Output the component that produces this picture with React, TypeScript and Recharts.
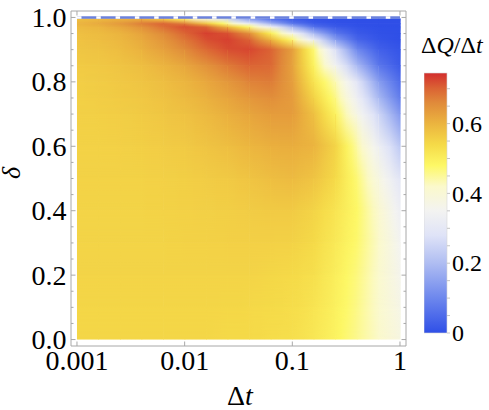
import React from 'react';
import { ComposedChart, XAxis, YAxis, ReferenceArea, ReferenceLine } from 'recharts';

// ---- grid of Δt (log-spaced columns) and δ (rows) ----
const DT = [0.001, 0.00158, 0.00251, 0.00398, 0.00631, 0.01, 0.0158, 0.0251, 0.0398, 0.0631, 0.1, 0.158, 0.251, 0.398, 0.631, 1];
const DELTA = [0, 0.1, 0.2, 0.3, 0.4, 0.5, 0.6, 0.7, 0.75, 0.8, 0.85, 0.9, 0.93, 0.95, 0.97, 0.98, 0.995];

// ΔQ/Δt values, one row per δ (columns follow DT)
const Q_000 = [0.545, 0.545, 0.545, 0.545, 0.545, 0.545, 0.545, 0.54, 0.54, 0.535, 0.53, 0.515, 0.49, 0.455, 0.42, 0.38];
const Q_010 = [0.547, 0.547, 0.547, 0.547, 0.547, 0.547, 0.547, 0.545, 0.543, 0.54, 0.535, 0.52, 0.495, 0.46, 0.415, 0.37];
const Q_020 = [0.55, 0.55, 0.55, 0.55, 0.55, 0.55, 0.55, 0.55, 0.55, 0.545, 0.54, 0.53, 0.5, 0.465, 0.415, 0.36];
const Q_030 = [0.55, 0.55, 0.55, 0.55, 0.55, 0.552, 0.553, 0.555, 0.555, 0.555, 0.553, 0.54, 0.51, 0.475, 0.42, 0.35];
const Q_040 = [0.55, 0.55, 0.55, 0.55, 0.552, 0.554, 0.556, 0.558, 0.562, 0.566, 0.565, 0.55, 0.52, 0.48, 0.41, 0.33];
const Q_050 = [0.552, 0.552, 0.552, 0.553, 0.555, 0.558, 0.562, 0.567, 0.575, 0.585, 0.59, 0.575, 0.54, 0.47, 0.38, 0.29];
const Q_060 = [0.553, 0.553, 0.555, 0.558, 0.562, 0.567, 0.575, 0.585, 0.597, 0.607, 0.61, 0.6, 0.55, 0.44, 0.33, 0.22];
const Q_070 = [0.555, 0.557, 0.56, 0.565, 0.572, 0.58, 0.592, 0.607, 0.622, 0.635, 0.635, 0.58, 0.49, 0.37, 0.25, 0.13];
const Q_075 = [0.557, 0.56, 0.565, 0.57, 0.578, 0.59, 0.605, 0.623, 0.642, 0.655, 0.635, 0.55, 0.46, 0.33, 0.19, 0.08];
const Q_080 = [0.56, 0.563, 0.568, 0.575, 0.585, 0.598, 0.618, 0.642, 0.668, 0.675, 0.63, 0.52, 0.43, 0.29, 0.14, 0.05];
const Q_085 = [0.565, 0.568, 0.575, 0.585, 0.6, 0.62, 0.648, 0.678, 0.7, 0.695, 0.625, 0.49, 0.34, 0.19, 0.07, 0.02];
const Q_090 = [0.572, 0.577, 0.587, 0.605, 0.628, 0.66, 0.695, 0.72, 0.725, 0.7, 0.63, 0.47, 0.27, 0.1, 0.03, 0.01];
const Q_093 = [0.577, 0.584, 0.595, 0.615, 0.645, 0.682, 0.718, 0.73, 0.7, 0.6, 0.47, 0.31, 0.14, 0.04, 0.01, 0];
const Q_095 = [0.58, 0.588, 0.6, 0.624, 0.658, 0.7, 0.73, 0.715, 0.65, 0.5, 0.35, 0.19, 0.07, 0.02, 0.005, 0];
const Q_097 = [0.59, 0.6, 0.62, 0.65, 0.69, 0.72, 0.7, 0.59, 0.47, 0.33, 0.18, 0.06, 0.02, 0.005, 0, 0];
const Q_098 = [0.6, 0.615, 0.64, 0.675, 0.7, 0.67, 0.57, 0.45, 0.31, 0.18, 0.07, 0.02, 0.005, 0, 0, 0];
const Q_0995 = [0.58, 0.59, 0.6, 0.6, 0.55, 0.47, 0.37, 0.25, 0.13, 0.05, 0.02, 0.005, 0, 0, 0, 0];
const Q_ROWS = [Q_000, Q_010, Q_020, Q_030, Q_040, Q_050, Q_060, Q_070, Q_075, Q_080, Q_085, Q_090, Q_093, Q_095, Q_097, Q_098, Q_0995];

// ---- ticks ----
const X_TICKS = [0.001, 0.01, 0.1, 1];
const X_TICK_LABELS = ['0.001', '0.01', '0.1', '1'];
const X_DOMAIN = [0.00088, 1.137];
const Y_MAJOR = [0, 0.2, 0.4, 0.6, 0.8, 1.0];
const Y_ALL = [0, 0.05, 0.1, 0.15, 0.2, 0.25, 0.3, 0.35, 0.4, 0.45, 0.5, 0.55, 0.6, 0.65, 0.7, 0.75, 0.8, 0.85, 0.9, 0.95, 1.0];
const CB_MAJOR = [0, 0.2, 0.4, 0.6];
const CB_ALL = [0, 0.05, 0.1, 0.15, 0.2, 0.25, 0.3, 0.35, 0.4, 0.45, 0.5, 0.55, 0.6, 0.65, 0.7];
const CB_MAX = 0.745;
const BOUNDARY_DELTA = 1.0;

// ---- colour map (value -> colour) ----
const CMAP_V = [0, 0.1, 0.2, 0.28, 0.35, 0.42, 0.48, 0.54, 0.6, 0.66, 0.7, 0.745];
const CMAP_C = ['#2f4fe7', '#6d87ed', '#afbdf2', '#dfe3f7', '#f3f3f1', '#fbf9cb', '#fdf866', '#f5da48', '#ebb43f', '#e08a3a', '#db6434', '#d32d2d'];

const FONT = 'Liberation Serif, Times New Roman, Times, serif';
const FRAME = '#a8a8a8';

// the x axis is drawn on log10(Δt)
const lg = (v: number) => Math.log10(v);

function hexToRgb(h: string) {
  const n = parseInt(h.slice(1), 16);
  return [(n >> 16) & 255, (n >> 8) & 255, n & 255];
}
const CMAP_RGB = CMAP_C.map(hexToRgb);

function cmap(v: number) {
  if (v <= CMAP_V[0]) v = CMAP_V[0];
  if (v >= CMAP_V[CMAP_V.length - 1]) v = CMAP_V[CMAP_V.length - 1];
  let k = 0;
  while (k < CMAP_V.length - 2 && v > CMAP_V[k + 1]) k++;
  const t = (v - CMAP_V[k]) / (CMAP_V[k + 1] - CMAP_V[k]);
  const a = CMAP_RGB[k];
  const b = CMAP_RGB[k + 1];
  const c = a.map((ai, i) => Math.round(ai + (b[i] - ai) * t));
  return `rgb(${c[0]},${c[1]},${c[2]})`;
}

const STOPS = [0, 0.25, 0.5, 0.75, 1];

function HeatCell(props: any) {
  const { x, y, width, height, cid, vbl, vbr, vtl, vtr } = props;
  if (![x, y, width, height].every((n) => typeof n === 'number' && isFinite(n))) return null;
  const X = x;
  const Y = y - 0.6;
  const W = width + 0.6;
  const H = height + 0.6;
  return (
    <g>
      <defs>
        <linearGradient id={`hb${cid}`} x1="0" y1="0" x2="1" y2="0">
          {STOPS.map((t) => (
            <stop key={t} offset={t} stopColor={cmap(vbl + (vbr - vbl) * t)} />
          ))}
        </linearGradient>
        <linearGradient id={`ht${cid}`} x1="0" y1="0" x2="1" y2="0">
          {STOPS.map((t) => (
            <stop key={t} offset={t} stopColor={cmap(vtl + (vtr - vtl) * t)} />
          ))}
        </linearGradient>
        <linearGradient id={`hm${cid}`} x1="0" y1="0" x2="0" y2="1">
          <stop offset="0" stopColor="#fff" />
          <stop offset="1" stopColor="#000" />
        </linearGradient>
        <mask id={`hk${cid}`} maskUnits="userSpaceOnUse" x={X} y={Y} width={W} height={H}>
          <rect x={X} y={Y} width={W} height={H} fill={`url(#hm${cid})`} />
        </mask>
      </defs>
      <rect x={X} y={Y} width={W} height={H} fill={`url(#hb${cid})`} />
      <rect x={X} y={Y} width={W} height={H} fill={`url(#ht${cid})`} mask={`url(#hk${cid})`} />
    </g>
  );
}

const isMajor = (v: number, arr: number[]) => arr.some((m) => Math.abs(m - v) < 1e-6);

const XTickBottom = (props: any) => {
  const { x, y, payload } = props;
  const idx = X_TICKS.findIndex((t) => Math.abs(lg(t) - payload.value) < 1e-6);
  return (
    <g>
      <line x1={x} x2={x} y1={y} y2={y - 4.5} stroke={FRAME} />
      <text x={x} y={y + 24} textAnchor="middle" fontSize={28} fontFamily={FONT} fill="#000">
        {idx >= 0 ? X_TICK_LABELS[idx] : ''}
      </text>
    </g>
  );
};

const XTickTop = (props: any) => {
  const { x, y } = props;
  return <line x1={x} x2={x} y1={y} y2={y + 4.5} stroke={FRAME} />;
};

const YTickLeft = (props: any) => {
  const { x, y, payload } = props;
  const major = isMajor(payload.value, Y_MAJOR);
  return (
    <g>
      <line x1={x} x2={x + (major ? 4.5 : 2.5)} y1={y} y2={y} stroke={FRAME} />
      {major && (
        <text x={x - 4.5} y={y} dy="0.34em" textAnchor="end" fontSize={28} fontFamily={FONT} fill="#000">
          {payload.value.toFixed(1)}
        </text>
      )}
    </g>
  );
};

const YTickRight = (props: any) => {
  const { x, y, payload } = props;
  const major = isMajor(payload.value, Y_MAJOR);
  return <line x1={x} x2={x - (major ? 4.5 : 2.5)} y1={y} y2={y} stroke={FRAME} />;
};

const CbTick = (props: any) => {
  const { x, y, payload } = props;
  const major = isMajor(payload.value, CB_MAJOR);
  return (
    <g>
      <line x1={x} x2={x + 3} y1={y} y2={y} stroke="#c4c4c4" />
      {major && (
        <text x={x + 5} y={y} dy="0.34em" textAnchor="start" fontSize={24} fontFamily={FONT} fill="#000">
          {payload.value === 0 ? '0' : payload.value.toFixed(1)}
        </text>
      )}
    </g>
  );
};

const ColorBarRect = (props: any) => {
  const { x, y, width, height } = props;
  if (![x, y, width, height].every((n) => typeof n === 'number' && isFinite(n))) return null;
  return (
    <g>
      <defs>
        <linearGradient id="cbgrad" x1="0" y1="1" x2="0" y2="0">
          {CMAP_V.map((v, i) => (
            <stop key={i} offset={v / CB_MAX} stopColor={CMAP_C[i]} />
          ))}
        </linearGradient>
      </defs>
      <rect x={x} y={y} width={width} height={height} fill="url(#cbgrad)" stroke="#d6d6d6" strokeWidth={0.6} />
    </g>
  );
};

const CELLS: { i: number; j: number }[] = [];
for (let j = 0; j < DELTA.length - 1; j++) {
  for (let i = 0; i < DT.length - 1; i++) CELLS.push({ i, j });
}

const NODE_DATA = DELTA.flatMap((d, j) => DT.map((t, i) => ({ lx: lg(t), d, q: Q_ROWS[j][i] })));
const CB_DATA = [{ cx: 0, cy: 0 }, { cx: 1, cy: CB_MAX }];

export default function App() {
  return (
    <div style={{ position: 'absolute', left: 0, top: 0, width: 489, height: 410, background: '#fff' }}>
      <div style={{ position: 'absolute', left: 0, top: 0 }}>
        <ComposedChart width={489} height={410} data={NODE_DATA} margin={{ top: 10, right: 82, bottom: 34, left: 0 }}>
          <XAxis
            xAxisId="b"
            dataKey="lx"
            type="number"
            domain={[lg(X_DOMAIN[0]), lg(X_DOMAIN[1])]}
            allowDataOverflow
            ticks={X_TICKS.map(lg)}
            interval={0}
            height={30}
            tickSize={0}
            tickMargin={0}
            tickLine={false}
            axisLine={{ stroke: FRAME }}
            tick={<XTickBottom />}
          />
          <XAxis
            xAxisId="t"
            dataKey="lx"
            orientation="top"
            type="number"
            domain={[lg(X_DOMAIN[0]), lg(X_DOMAIN[1])]}
            allowDataOverflow
            ticks={X_TICKS.map(lg)}
            interval={0}
            height={1}
            tickSize={0}
            tickMargin={0}
            tickLine={false}
            axisLine={{ stroke: FRAME }}
            tick={<XTickTop />}
          />
          <YAxis
            yAxisId="l"
            dataKey="d"
            type="number"
            domain={[-0.02, 1.02]}
            allowDataOverflow
            ticks={Y_ALL}
            interval={0}
            width={71}
            tickSize={0}
            tickMargin={0}
            tickLine={false}
            axisLine={{ stroke: FRAME }}
            tick={<YTickLeft />}
          />
          <YAxis
            yAxisId="r"
            dataKey="d"
            orientation="right"
            type="number"
            domain={[-0.02, 1.02]}
            allowDataOverflow
            ticks={Y_ALL}
            interval={0}
            width={1}
            tickSize={0}
            tickMargin={0}
            tickLine={false}
            axisLine={{ stroke: FRAME }}
            tick={<YTickRight />}
          />
          {CELLS.map(({ i, j }) => (
            <ReferenceArea
              key={`c${i}-${j}`}
              xAxisId="b"
              yAxisId="l"
              x1={lg(DT[i])}
              x2={lg(DT[i + 1])}
              y1={DELTA[j]}
              y2={DELTA[j + 1]}
              ifOverflow="visible"
              shape={(p: any) => (
                <HeatCell
                  {...p}
                  cid={`${i}_${j}`}
                  vbl={Q_ROWS[j][i]}
                  vbr={Q_ROWS[j][i + 1]}
                  vtl={Q_ROWS[j + 1][i]}
                  vtr={Q_ROWS[j + 1][i + 1]}
                />
              )}
            />
          ))}
          <ReferenceLine
            xAxisId="b"
            yAxisId="l"
            segment={[{ x: lg(DT[0]), y: BOUNDARY_DELTA }, { x: lg(DT[DT.length - 1]), y: BOUNDARY_DELTA }]}
            stroke="#6b82dd"
            strokeWidth={2.5}
            ifOverflow="visible"
          />
          <ReferenceLine
            xAxisId="b"
            yAxisId="l"
            segment={[{ x: lg(DT[0]), y: BOUNDARY_DELTA }, { x: lg(DT[DT.length - 1]), y: BOUNDARY_DELTA }]}
            stroke="#ffffff"
            strokeWidth={2.5}
            strokeDasharray="4.5 14.8"
            ifOverflow="visible"
          />
          <text x={103} y={316} fontSize={28} fontFamily={FONT} fill="#000">
            <tspan fontStyle="italic">β</tspan>
            <tspan dx={5}>=</tspan>
            <tspan dx={4}>2</tspan>
          </text>
          <text transform="translate(20,173) rotate(-90)" textAnchor="middle" fontSize={26} fontFamily={FONT} fontStyle="italic" fill="#000">
            δ
          </text>
          <text x={240} y={405} textAnchor="middle" fontSize={28} fontFamily={FONT} fill="#000">
            Δ<tspan fontStyle="italic">t</tspan>
          </text>
          <text x={421} y={53} fontSize={24} fontFamily={FONT} fill="#000">
            Δ<tspan fontStyle="italic">Q</tspan>/Δ<tspan fontStyle="italic">t</tspan>
          </text>
        </ComposedChart>
      </div>
      <div style={{ position: 'absolute', left: 424, top: 60 }}>
        <ComposedChart width={65} height={290} data={CB_DATA} margin={{ top: 13, right: 0, bottom: 17, left: 0 }}>
          <XAxis xAxisId="cx" dataKey="cx" type="number" domain={[0, 1]} allowDataOverflow hide />
          <YAxis
            yAxisId="cy"
            dataKey="cy"
            orientation="right"
            type="number"
            domain={[0, CB_MAX]}
            allowDataOverflow
            ticks={CB_ALL}
            interval={0}
            width={42}
            tickSize={0}
            tickMargin={0}
            tickLine={false}
            axisLine={false}
            tick={<CbTick />}
          />
          <ReferenceArea xAxisId="cx" yAxisId="cy" x1={0} x2={1} y1={0} y2={CB_MAX} ifOverflow="visible" shape={(p: any) => <ColorBarRect {...p} />} />
        </ComposedChart>
      </div>
    </div>
  );
}
